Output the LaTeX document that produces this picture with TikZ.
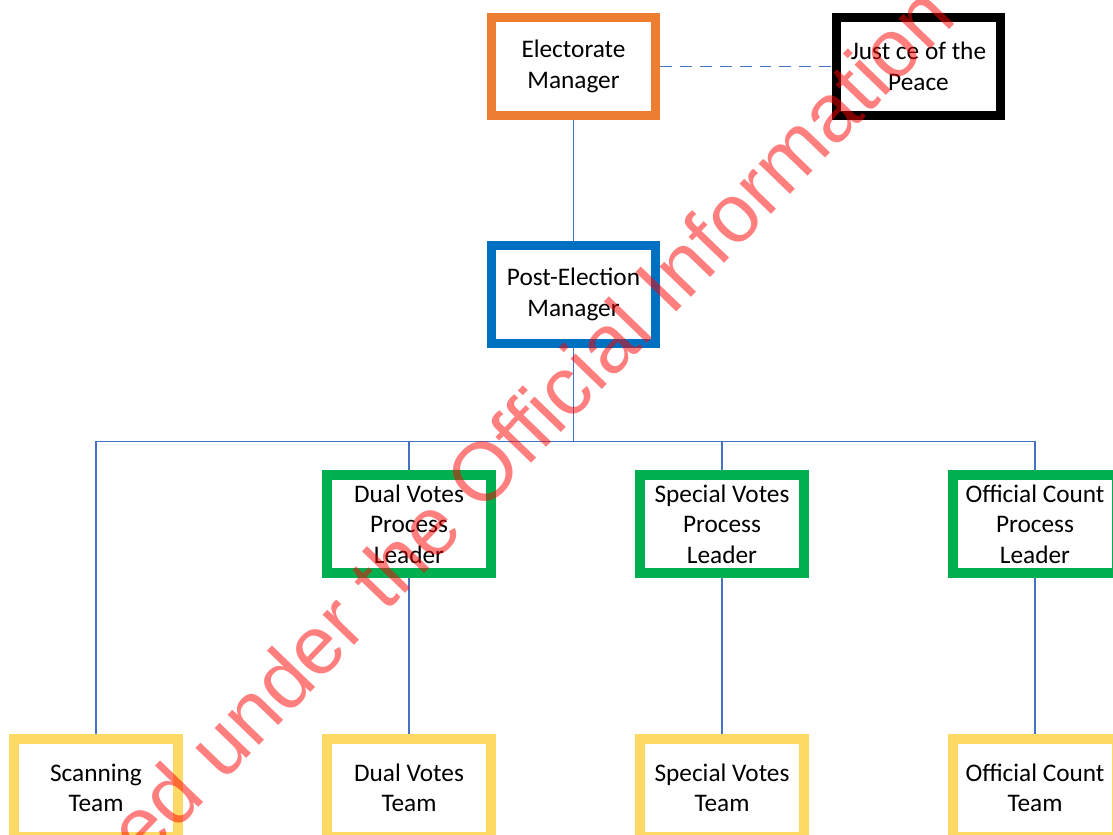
\documentclass[tikz,border=0pt]{standalone}
\usepackage{fontspec}
\setmainfont{Carlito}
\newfontfamily\wmfont{Liberation Sans}
\usetikzlibrary{positioning}
\definecolor{emorange}{HTML}{ED7D31}
\definecolor{pemblue}{HTML}{0070C0}
\definecolor{leadgreen}{HTML}{00B050}
\definecolor{teamyellow}{HTML}{FFD966}
\definecolor{linkblue}{HTML}{4472C4}

\begin{document}
\begin{tikzpicture}[
  x=0.02cm, y=-0.02cm,
  box/.style={rectangle, draw, line width=5.4pt, fill=white, align=center,
              minimum width=3.28cm, minimum height=1.96cm, inner sep=2pt,
              font=\fontsize{14.4}{17.3}\selectfont},
  link/.style={draw=linkblue, line width=0.75pt},
  wmark/.style={font=\wmfont\fontsize{47}{56}\selectfont, text=red,
                text opacity=0.5, inner sep=0pt, rotate=46}
]
  \clip (0,0) rectangle (1113,835);
  % top of the chart
  \node[box, draw=emorange] (em) at (573.5,66.5) {Electorate\\Manager};
  \node[box, draw=black] (jp) at (918.5,66.5) {Just ce of the\\Peace};
  \node[box, draw=pemblue] (pem) at (573.5,294.5) {Post-Election\\Manager};
  % process leaders
  \node[box, draw=leadgreen] (dvl) at (409,524) {Dual Votes\\Process\\Leader};
  \node[box, draw=leadgreen] (svl) at (722,524) {Special Votes\\Process\\Leader};
  \node[box, draw=leadgreen] (ocl) at (1035,524) {Official Count\\Process\\Leader};
  % teams
  \node[box, draw=teamyellow] (scan) at (96,788) {Scanning\\Team};
  \node[box, draw=teamyellow] (dvt) at (409,788) {Dual Votes\\Team};
  \node[box, draw=teamyellow] (svt) at (722,788) {Special Votes\\Team};
  \node[box, draw=teamyellow] (oct) at (1035,788) {Official Count\\Team};
  % connectors
  \coordinate (bus) at (573.5,441.7);
  \draw[link, dash pattern=on 6.8pt off 4.5pt] (em) -- (jp);
  \draw[link] (em) -- (pem);
  \draw[link] (pem) -- (bus);
  \draw[link] (scan.north) |- (bus) -| (ocl.north);
  \draw[link] (dvl.north) -- (dvl.north |- bus);
  \draw[link] (svl.north) -- (svl.north |- bus);
  \draw[link] (dvl) -- (dvt);
  \draw[link] (svl) -- (svt);
  \draw[link] (ocl) -- (oct);
  % watermark
  \node[wmark] (wm) at (530,422) {ed under the Official Information};
\end{tikzpicture}
\end{document}
